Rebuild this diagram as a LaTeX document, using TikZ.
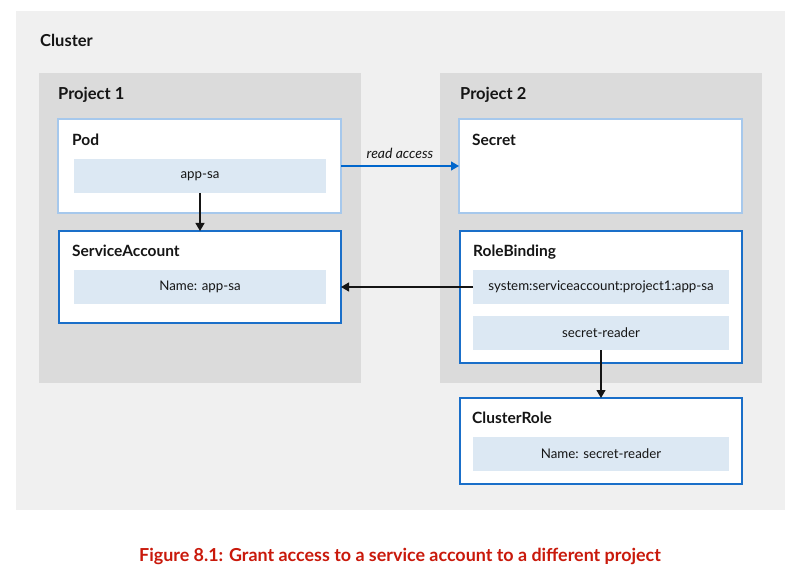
\documentclass[tikz,border=0pt]{standalone}
\usepackage{fontspec}
\setmainfont{Lato}
\usetikzlibrary{arrows.meta}
\definecolor{clusterbg}{HTML}{F0F0F0}
\definecolor{projbg}{HTML}{DBDBDB}
\definecolor{innerbg}{HTML}{DCE8F3}
\definecolor{lightblue}{HTML}{A6C8EC}
\definecolor{darkblue}{HTML}{1A6FC9}
\definecolor{arrowblue}{HTML}{0066CC}
\definecolor{capred}{HTML}{C9190B}
\definecolor{txt}{HTML}{151515}
\tikzset{
  area/.style={draw=none, inner sep=0pt, outer sep=0pt},
  box/.style={fill=white, line width=1.2pt, inner sep=0pt, outer sep=0pt, minimum width=282pt},
  lbox/.style={box, draw=lightblue},
  dbox/.style={box, draw=darkblue},
  inner/.style={fill=innerbg, draw=none, inner sep=0pt, outer sep=0pt, minimum height=34pt, text=txt, font=\fontsize{13.3}{15}\selectfont},
  title/.style={anchor=base west, inner sep=0pt, text=txt, font=\fontsize{15.5}{17}\selectfont\bfseries},
  bigtitle/.style={title, font=\fontsize{16.5}{18}\selectfont\bfseries},
  conn/.style={-{Triangle[length=8pt,width=9pt]}, line width=1.2pt, draw=txt},
}
\begin{document}
\begin{tikzpicture}[x=1pt,y=-1pt]
\useasboundingbox (0,0) rectangle (800,577);
\fill[white] (0,0) rectangle (800,577);
\node[area, fill=clusterbg, minimum width=769pt, minimum height=499pt] (cluster) at (400.5,260.5) {};
\node[bigtitle] (clusterlbl) at (40,46.5) {Cluster};
\node[area, fill=projbg, minimum width=322pt, minimum height=310pt] (proj1) at (200,228) {};
\node[area, fill=projbg, minimum width=322pt, minimum height=310pt] (proj2) at (601,228) {};
\node[bigtitle] (proj1lbl) at (58,100) {Project 1};
\node[bigtitle] (proj2lbl) at (460,100) {Project 2};
% Project 1
\node[lbox, minimum width=283pt, minimum height=94pt] (pod) at (199.5,166) {};
\node[title] (podlbl) at (72,146) {Pod};
\node[inner, minimum width=252pt] (podin) at (200,176) {app-sa};
\node[dbox, minimum height=92pt] (sa) at (200,277) {};
\node[title] (salbl) at (72,257) {ServiceAccount};
\node[inner, minimum width=252pt] (sain) at (200,287) {Name: app-sa};
% Project 2
\node[lbox, minimum width=283pt, minimum height=94pt] (secret) at (600.5,166) {};
\node[title] (secretlbl) at (472,146) {Secret};
\node[dbox, minimum height=132pt] (rb) at (601,297) {};
\node[title] (rblbl) at (473,257) {RoleBinding};
\node[inner, minimum width=256pt] (rbin1) at (601,287) {system:serviceaccount:project1:app-sa};
\node[inner, minimum width=256pt] (rbin2) at (601,333) {secret-reader};
% ClusterRole
\node[dbox, minimum height=86pt] (cr) at (601,441) {};
\node[title] (crlbl) at (472,423) {ClusterRole};
\node[inner, minimum width=256pt] (crin) at (601,454) {Name: secret-reader};
% connectors
\draw[conn] (podin.south) -- (sa.north);
\draw[conn, draw=arrowblue] (pod.east |- 0,166) -- node[above=3pt, text=txt, font=\fontsize{14}{16}\selectfont\itshape] (readlbl) {read access} (secret.west |- 0,166);
\draw[conn] (rbin1.west) -- (sa.east |- rbin1.west);
\draw[conn] (rbin2.south) -- (cr.north);
% caption
\node[anchor=base, inner sep=0pt, text=capred, font=\fontsize{17.9}{20}\selectfont\bfseries] (caption) at (400,561) {Figure 8.1: Grant access to a service account to a different project};
\end{tikzpicture}
\end{document}
